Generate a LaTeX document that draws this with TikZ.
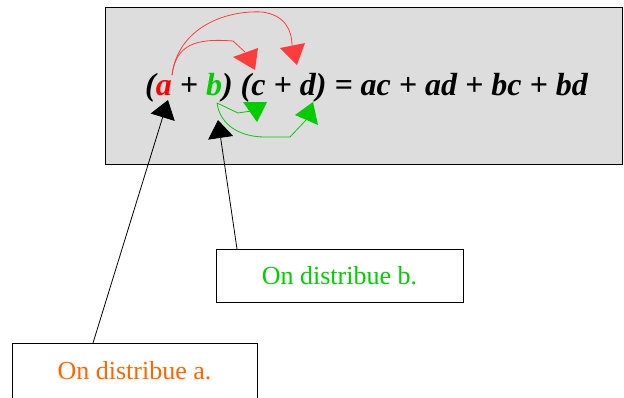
\documentclass[tikz,border=0pt]{standalone}
\usepackage{fontspec}
\setmainfont{Liberation Serif}
\usetikzlibrary{arrows.meta}
\definecolor{panelgray}{RGB}{221,221,221}
\definecolor{arrred}{RGB}{255,60,60}
\definecolor{vargreen}{RGB}{0,204,0}
\definecolor{txtorange}{RGB}{255,102,0}
\tikzset{
  panel/.style={draw=black, line width=1pt, fill=panelgray, inner sep=0pt},
  labelbox/.style={draw=black, line width=1pt, fill=white, inner sep=0pt, font=\fontsize{26}{26}\selectfont},
  redline/.style={draw=arrred, line width=0.8pt},
  greenline/.style={draw=vargreen, line width=0.8pt},
  redhead/.style={fill=arrred},
  greenhead/.style={fill=vargreen},
  blackarrow/.style={draw=black, line width=0.8pt, -{Triangle[length=18pt,width=25pt]}},
}
\begin{document}
\begin{tikzpicture}[x=1pt,y=-1pt]
\useasboundingbox (0,0) rectangle (624,397);
\node[panel, minimum width=517pt, minimum height=157pt] (panel) at (363.5,85.5) {};
\node[anchor=base west, inner sep=0pt, font=\fontsize{32}{32}\selectfont\bfseries\itshape] (eq) at (145,95)
  {(\textcolor{red}{a} + \textcolor{vargreen}{b}) (c + d) = ac + ad + bc + bd};
% boxes
\node[labelbox, minimum width=247pt, minimum height=53pt, text=vargreen] (boxb) at (339.5,275.5) {On distribue b.};
\node[labelbox, minimum width=245pt, minimum height=55pt, text=txtorange] (boxa) at (134.5,370.5) {On distribue a.};
% coordinates
\coordinate (astart) at (172,75);
\coordinate (bstart) at (217,103);
\coordinate (atail) at (93,343);
\coordinate (btail) at (237,249);
\coordinate (atip) at (168,100);
\coordinate (btip) at (218,120);
% red arrows
\draw[redline] (astart) .. controls (176,45) and (195,38) .. (233,41) -- (245,52);
\fill[redhead] (233,57) -- (258,48) -- (255,70) -- cycle;
\draw[redline] (astart) .. controls (178,28) and (225,10) .. (262,12) .. controls (285,15) and (292,30) .. (292,46);
\fill[redhead] (280,48) -- (305,43) -- (297,65) -- cycle;
% green arrows
\draw[greenline] (bstart) -- (238,113) -- (251,111);
\fill[greenhead] (243,102) -- (267,102) -- (257,122) -- cycle;
\draw[greenline] (bstart) .. controls (220,125) and (240,137) .. (265,137) -- (290,137) -- (306,120);
\fill[greenhead] (295,115) -- (313,102) -- (318,125) -- cycle;
% black arrows
\draw[blackarrow] (atail) -- (atip);
\draw[blackarrow] (btail) -- (btip);
\end{tikzpicture}
\end{document}
